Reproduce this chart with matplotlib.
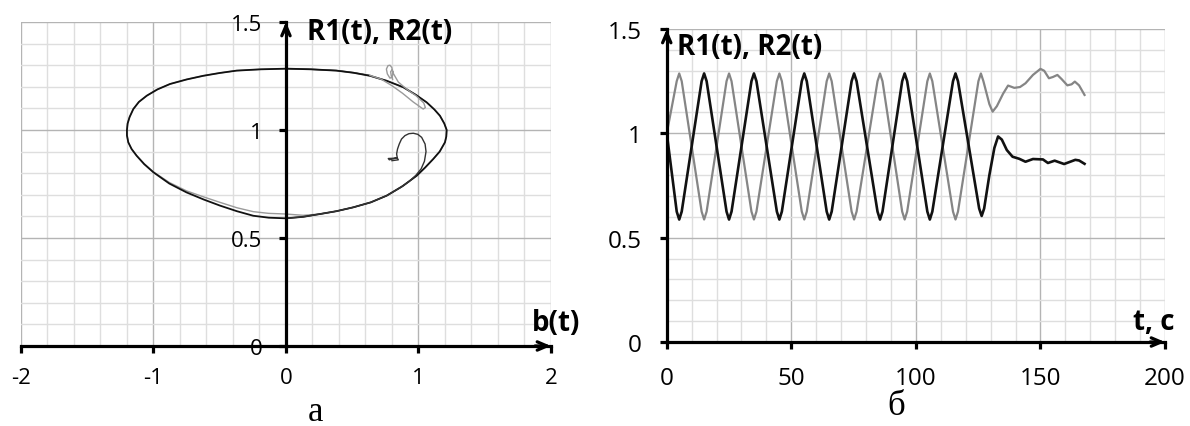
import matplotlib
matplotlib.use("Agg")
import matplotlib.pyplot as plt
from matplotlib.ticker import MultipleLocator, FuncFormatter

plt.rcParams["font.family"] = ["Open Sans", "DejaVu Sans"]
plt.rcParams["axes.unicode_minus"] = False

# ---- panel a: phase portrait, b(t) against R1(t) and R2(t) ----
# R1: bottom -> left -> top -> right -> bottom, then the settling tail
b_r1 = [0.0, -0.13, -0.247, -0.37, -0.498, -0.62, -0.75, -0.88, -1.0, -1.07, -1.127,
        -1.165, -1.19, -1.2, -1.2, -1.195, -1.18, -1.152, -1.11, -1.05, -0.97, -0.875,
        -0.75, -0.624, -0.5, -0.372, -0.19, 0.005, 0.19, 0.38, 0.51, 0.634, 0.76,
        0.885, 0.98, 1.062, 1.12, 1.162, 1.195, 1.213, 1.21, 1.20, 1.16, 1.112,
        1.05, 0.986, 0.88, 0.76, 0.64, 0.508, 0.38, 0.257, 0.13, 0.0,
        0.13, 0.257, 0.38, 0.508, 0.64, 0.76, 0.86, 0.93, 0.98, 1.02, 1.045,
        1.057, 1.05, 1.024, 0.995, 0.961, 0.928, 0.898, 0.872, 0.855, 0.842, 0.835,
        0.84, 0.78, 0.772, 0.84, 0.848, 0.80]
r1_b = [0.591, 0.594, 0.603, 0.624, 0.65, 0.678, 0.711, 0.752, 0.804, 0.842, 0.881,
        0.912, 0.943, 0.975, 1.0, 1.03, 1.06, 1.097, 1.13, 1.159, 1.188, 1.213,
        1.234, 1.251, 1.264, 1.275, 1.281, 1.284, 1.281, 1.275, 1.265, 1.251, 1.228,
        1.198, 1.163, 1.128, 1.095, 1.066, 1.03, 1.0, 0.97, 0.943, 0.9, 0.866,
        0.826, 0.788, 0.74, 0.696, 0.665, 0.642, 0.624, 0.611, 0.598, 0.591,
        0.598, 0.611, 0.624, 0.642, 0.665, 0.696, 0.732, 0.762, 0.79, 0.82, 0.855,
        0.9, 0.935, 0.966, 0.98, 0.985, 0.983, 0.974, 0.958, 0.935, 0.912, 0.889,
        0.872, 0.862, 0.868, 0.87, 0.862, 0.858]

# R2: top -> left -> bottom -> right -> top, then the settling tail
b_r2 = [0.005, -0.19, -0.372, -0.5, -0.624, -0.75, -0.875, -0.97, -1.05, -1.11, -1.152,
        -1.18, -1.195, -1.2, -1.2, -1.19, -1.165, -1.127, -1.07, -1.0, -0.88, -0.75,
        -0.62, -0.498, -0.37, -0.247, -0.13, 0.0, 0.13, 0.257, 0.38, 0.508, 0.64,
        0.76, 0.88, 0.986, 1.05, 1.112, 1.16, 1.20, 1.21, 1.213, 1.195, 1.162,
        1.12, 1.062, 0.98, 0.885, 0.76, 0.634, 0.51, 0.38, 0.19, 0.005,
        0.19, 0.38, 0.51, 0.634, 0.72, 0.80, 0.88, 0.96, 1.036, 1.052, 1.04,
        0.98, 0.936, 0.89, 0.848, 0.81, 0.798, 0.785, 0.77, 0.758, 0.765, 0.785,
        0.80, 0.81, 0.80, 0.79, 0.795, 0.805]
r2_b = [1.284, 1.281, 1.275, 1.264, 1.251, 1.234, 1.213, 1.188, 1.159, 1.13, 1.097,
        1.06, 1.03, 1.0, 0.975, 0.943, 0.912, 0.881, 0.844, 0.806, 0.757, 0.718,
        0.69, 0.665, 0.64, 0.622, 0.614, 0.611, 0.605, 0.611, 0.624, 0.642, 0.665,
        0.696, 0.74, 0.788, 0.826, 0.866, 0.9, 0.943, 0.97, 1.0, 1.03, 1.066,
        1.095, 1.128, 1.163, 1.198, 1.228, 1.251, 1.265, 1.275, 1.281, 1.284,
        1.281, 1.276, 1.266, 1.253, 1.235, 1.205, 1.17, 1.13, 1.097, 1.104, 1.125,
        1.16, 1.178, 1.2, 1.222, 1.262, 1.29, 1.3, 1.298, 1.282, 1.26, 1.24,
        1.245, 1.265, 1.278, 1.27, 1.25, 1.235]

# ---- panel b: R1(t), R2(t) ----
t_r1 = [0, 4.0, 5.0, 6.0, 14.0, 15.0, 16.0, 24.0, 25.0, 26.0, 34.0, 35.0, 36.0,
        44.2, 45.2, 46.2, 54.2, 55.2, 56.2, 64.2, 65.2, 66.2, 74.2, 75.2, 76.2,
        84.6, 85.6, 86.6, 94.5, 95.5, 96.5, 104.6, 105.6, 106.6, 114.9, 115.9, 116.9,
        125.4, 126.4, 127.4, 129.5, 131.5, 133.0, 134.5, 136.5, 138.8, 141.5, 144.0,
        147.0, 151.0, 153.0, 155.7, 159.5, 164.0, 165.5, 167.7]
r1_t = [1.0, 0.625, 0.587, 0.625, 1.25, 1.287, 1.25, 0.625, 0.587, 0.625, 1.25, 1.287, 1.25,
        0.625, 0.587, 0.625, 1.25, 1.287, 1.25, 0.625, 0.587, 0.625, 1.25, 1.287, 1.25,
        0.625, 0.587, 0.625, 1.25, 1.287, 1.25, 0.625, 0.587, 0.625, 1.25, 1.287, 1.25,
        0.64, 0.604, 0.64, 0.80, 0.93, 0.985, 0.97, 0.92, 0.888, 0.878, 0.864,
        0.877, 0.875, 0.858, 0.869, 0.853, 0.873, 0.87, 0.854]

t_r2 = [0, 4.0, 5.0, 6.0, 14.0, 15.0, 16.0, 24.0, 25.0, 26.0, 34.0, 35.0, 36.0,
        44.2, 45.2, 46.2, 54.2, 55.2, 56.2, 64.2, 65.2, 66.2, 74.2, 75.2, 76.2,
        84.6, 85.6, 86.6, 94.5, 95.5, 96.5, 104.6, 105.6, 106.6, 114.9, 115.9, 116.9,
        125.1, 126.1, 127.1, 129.5, 130.8, 132.5, 135.0, 137.0, 139.5, 141.8, 144.0,
        147.0, 150.0, 151.5, 153.4, 155.0, 156.8, 158.5, 160.8, 162.5, 163.8, 165.5, 167.7]
r2_t = [1.0, 1.25, 1.287, 1.25, 0.625, 0.587, 0.625, 1.25, 1.287, 1.25, 0.625, 0.587, 0.625,
        1.25, 1.287, 1.25, 0.625, 0.587, 0.625, 1.25, 1.287, 1.25, 0.625, 0.587, 0.625,
        1.25, 1.287, 1.25, 0.625, 0.587, 0.625, 1.25, 1.287, 1.25, 0.625, 0.587, 0.625,
        1.25, 1.287, 1.25, 1.14, 1.104, 1.13, 1.19, 1.229, 1.218, 1.222, 1.24,
        1.28, 1.309, 1.30, 1.264, 1.27, 1.28, 1.26, 1.23, 1.235, 1.248, 1.23, 1.184]

BLACK = "#111111"
GRAY = "#858585"
AX_LW = 2.3


def style_axes(ax, xlim, xmaj, xmin, ymaj, ymin, fs, pad_x, pad_y):
    ax.set_xlim(*xlim)
    ax.set_ylim(0, 1.5)
    for s in ["top", "right"]:
        ax.spines[s].set_visible(False)
    ax.spines["left"].set_position(("data", 0))
    ax.spines["bottom"].set_position(("data", 0))
    for s in ["left", "bottom"]:
        ax.spines[s].set_linewidth(AX_LW)
        ax.spines[s].set_color("black")
        ax.spines[s].set_zorder(5)
    ax.xaxis.set_major_locator(MultipleLocator(xmaj))
    ax.xaxis.set_minor_locator(MultipleLocator(xmin))
    ax.yaxis.set_major_locator(MultipleLocator(ymaj))
    ax.yaxis.set_minor_locator(MultipleLocator(ymin))
    fmt = FuncFormatter(lambda v, p: f"{v:g}")
    ax.xaxis.set_major_formatter(fmt)
    ax.yaxis.set_major_formatter(fmt)
    ax.tick_params(which="major", direction="out", length=5, width=AX_LW,
                   labelsize=fs, colors="black")
    ax.tick_params(axis="x", which="major", pad=pad_x)
    ax.tick_params(axis="y", which="major", pad=pad_y)
    ax.tick_params(which="minor", length=0)
    ax.grid(which="major", color="#b4b4b4", lw=1.0)
    ax.grid(which="minor", color="#dedede", lw=1.0)
    ax.set_axisbelow(True)
    ax.patch.set_alpha(0)
    # arrows at the ends of the axes
    arr = dict(arrowstyle="->,head_length=0.7,head_width=0.3", lw=AX_LW,
               color="black", shrinkA=0, shrinkB=0)
    ax.annotate("", xy=(xlim[1], 0), xytext=(xlim[1] - (xlim[1] - xlim[0]) * 0.03, 0),
                arrowprops=arr, annotation_clip=False, zorder=6)
    ax.annotate("", xy=(0, 1.5), xytext=(0, 1.45),
                arrowprops=arr, annotation_clip=False, zorder=6)


fig = plt.figure(figsize=(11.9, 4.27), dpi=100)

# panel a: gray main loop under the black one, gray tail on top
ax1 = fig.add_axes([0.0176, 0.1874, 0.4454, 0.7587])
style_axes(ax1, (-2, 2), 1, 0.2, 0.5, 0.1, 16, 10, 12)
ax1.plot(b_r2[:58], r2_b[:58], color="#9a9a9a", lw=1.0, zorder=2)
ax1.plot(b_r2[57:], r2_b[57:], color="#9a9a9a", lw=1.0, zorder=4)
ax1.plot(b_r1[:54], r1_b[:54], color=BLACK, lw=1.3, zorder=3)
ax1.plot(b_r1[53:], r1_b[53:], color="#333333", lw=1.0, zorder=4)
ax1.text(0.16, 1.455, "R1(t), R2(t)", fontsize=20, fontweight="bold",
         ha="left", va="center")
ax1.text(1.857, 0.111, "b(t)", fontsize=20, fontweight="bold",
         ha="left", va="center")

# panel b
ax2 = fig.add_axes([0.5603, 0.1967, 0.4187, 0.733])
style_axes(ax2, (0, 200), 50, 10, 0.5, 0.1, 17.5, 12, 13)
ax2.plot(t_r2, r2_t, color=GRAY, lw=1.6, zorder=3)
ax2.plot(t_r1, r1_t, color=BLACK, lw=1.9, zorder=4)
ax2.text(4.1, 1.418, "R1(t), R2(t)", fontsize=20, fontweight="bold",
         ha="left", va="center")
ax2.text(187.3, 0.10, "t, c", fontsize=20, fontweight="bold",
         ha="left", va="center")

fig.text(0.2655, 0.035, "а", fontsize=25, family="Liberation Serif",
         ha="center", va="center")
fig.text(0.7529, 0.047, "б", fontsize=25, family="Liberation Serif",
         ha="center", va="center")

fig.savefig("out.png", dpi=100)
